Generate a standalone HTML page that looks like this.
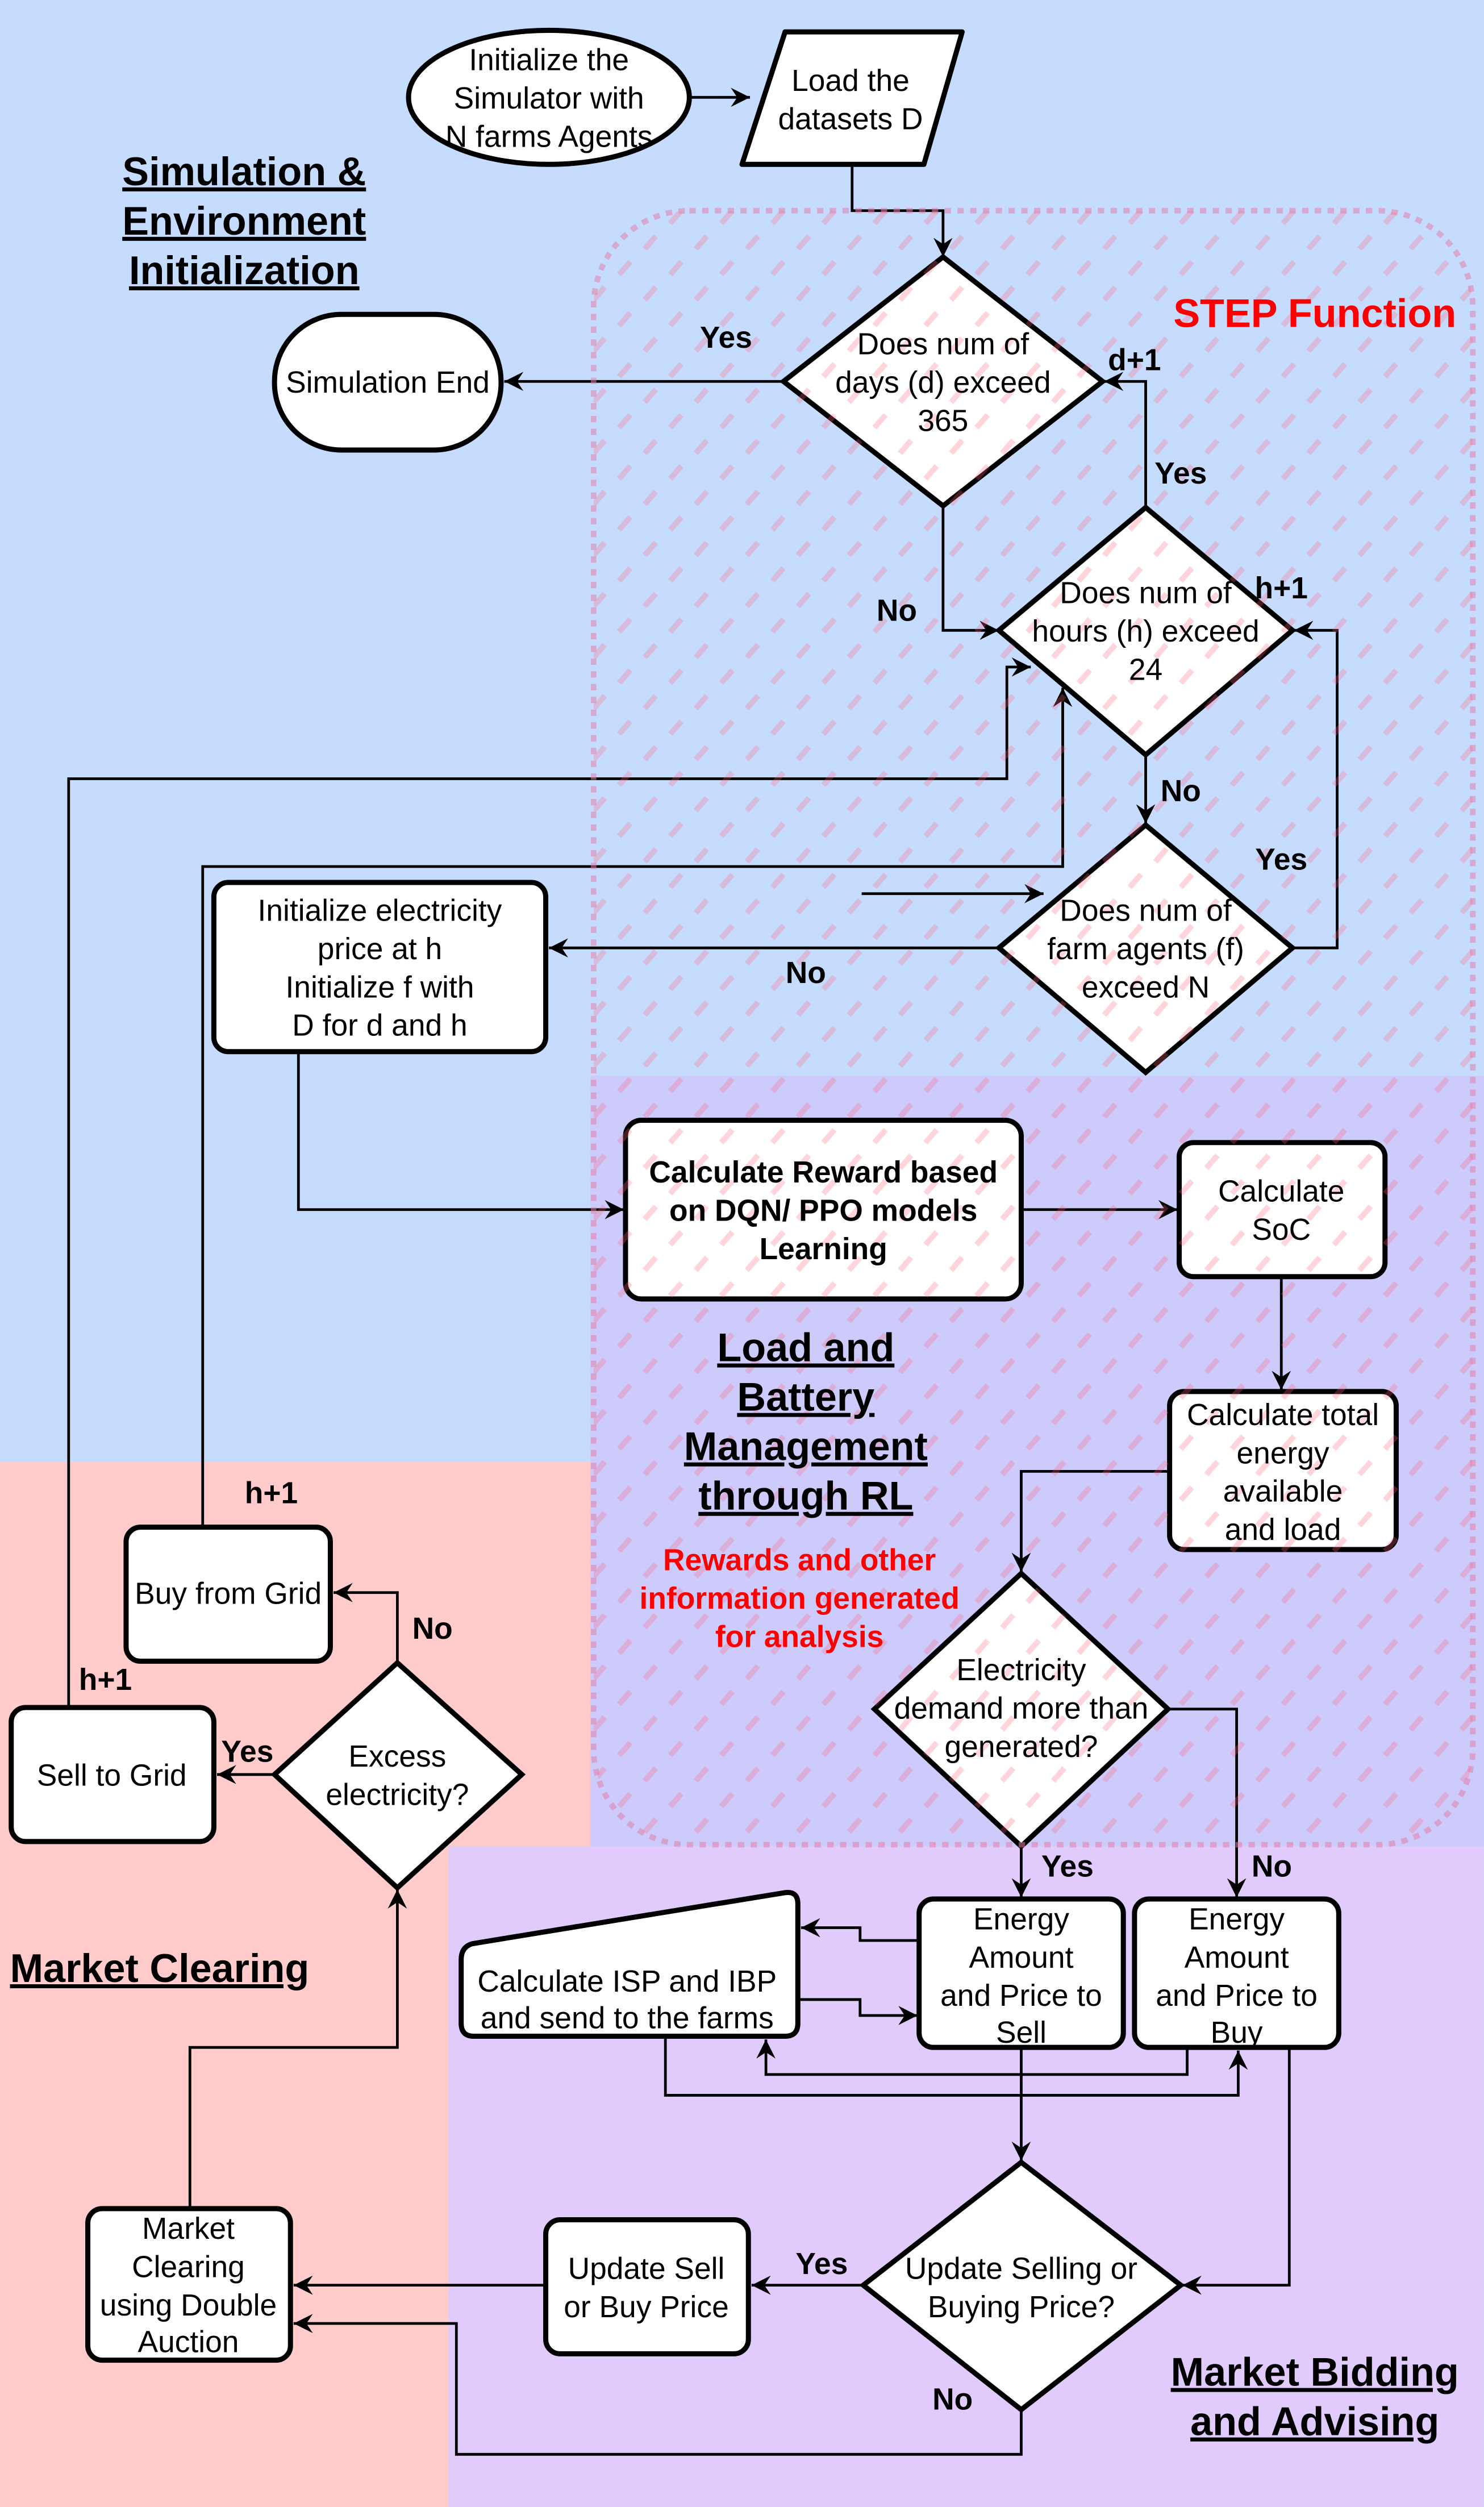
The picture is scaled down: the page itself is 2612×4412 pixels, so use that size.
<!DOCTYPE html>
<html><head><meta charset="utf-8"><style>
html,body{margin:0;padding:0;background:#c6dcfe}
svg{display:block}
text{font-family:"Liberation Sans",Arial,sans-serif}
.n{font-size:19px;fill:#000;text-anchor:middle}
.b{font-size:19px;font-weight:bold;fill:#000;text-anchor:middle}
.t{font-size:25px;font-weight:bold;fill:#000;text-anchor:middle;text-decoration:underline}
.s{fill:#fff;stroke:#000;stroke-width:3.2}
.c{fill:none;stroke:#000;stroke-width:1.7}
</style></head><body>
<svg width="2612" height="4412" viewBox="0 0 930 1571" xmlns="http://www.w3.org/2000/svg">
<defs>
<marker id="a" markerUnits="userSpaceOnUse" markerWidth="14" markerHeight="12" refX="12" refY="6" orient="auto">
<path d="M0,0 L12,6 L0,12 L4,6 z" fill="#000"/></marker>
<pattern id="h" patternUnits="userSpaceOnUse" width="32" height="32">
<path d="M4,12 L11,4 M20,28 L27,20" stroke="rgba(255,100,125,0.28)" stroke-width="3.5"/>
</pattern>
<clipPath id="cr"><rect x="372" y="132" width="551" height="1024" rx="60"/></clipPath>
</defs>
<rect x="0" y="0" width="930" height="1571" fill="#c6dcfe"/>
<rect x="370" y="674" width="560" height="483" fill="#cccbfc"/>
<rect x="0" y="916" width="370" height="655" fill="#ffcbcb"/>
<rect x="281" y="1157" width="649" height="414" fill="#e1cbfd"/>

<path class="c" d="M432,61 L470,61" marker-end="url(#a)"/>
<path class="c" d="M534,103 L534,132 L591,132 L591,161" marker-end="url(#a)"/>
<path class="c" d="M491,239 L316,239" marker-end="url(#a)"/>
<path class="c" d="M591,317 L591,395 L626,395" marker-end="url(#a)"/>
<path class="c" d="M718,318 L718,239 L692,239" marker-end="url(#a)"/>
<path class="c" d="M718,473 L718,516" marker-end="url(#a)"/>
<path class="c" d="M810,594 L838,594 L838,395 L811,395" marker-end="url(#a)"/>
<path class="c" d="M540,560 L654,560" marker-end="url(#a)"/>
<path class="c" d="M626,594 L344,594" marker-end="url(#a)"/>
<path class="c" d="M187,659 L187,758 L391,758" marker-end="url(#a)"/>
<path class="c" d="M640,758 L738,758" marker-end="url(#a)"/>
<path class="c" d="M803,800 L803,871" marker-end="url(#a)"/>
<path class="c" d="M733,922 L640,922 L640,985" marker-end="url(#a)"/>
<path class="c" d="M732,1071 L775,1071 L775,1189" marker-end="url(#a)"/>
<path class="c" d="M640,1157 L640,1189" marker-end="url(#a)"/>
<path class="c" d="M576,1216 L539,1216 L539,1208 L502,1208" marker-end="url(#a)"/>
<path class="c" d="M500,1253 L539,1253 L539,1263 L575,1263" marker-end="url(#a)"/>
<path class="c" d="M744,1284 L744,1300 L480,1300 L480,1278" marker-end="url(#a)"/>
<path class="c" d="M417,1276 L417,1313 L776,1313 L776,1285" marker-end="url(#a)"/>
<path class="c" d="M640,1283 L640,1354" marker-end="url(#a)"/>
<path class="c" d="M808,1283 L808,1432 L741,1432" marker-end="url(#a)"/>
<path class="c" d="M541,1432 L471,1432" marker-end="url(#a)"/>
<path class="c" d="M342,1432 L184,1432" marker-end="url(#a)"/>
<path class="c" d="M640,1510 L640,1538 L286,1538 L286,1456 L184,1456" marker-end="url(#a)"/>
<path class="c" d="M119,1384 L119,1283 L249,1283 L249,1184" marker-end="url(#a)"/>
<path class="c" d="M172,1112 L136,1112" marker-end="url(#a)"/>
<path class="c" d="M249,1042 L249,998 L209,998" marker-end="url(#a)"/>
<path class="c" d="M127,957 L127,543 L666,543 L666,431" marker-end="url(#a)"/>
<path class="c" d="M43,1070 L43,488 L631,488 L631,418 L646,418" marker-end="url(#a)"/>

<ellipse class="s" cx="344" cy="61" rx="88" ry="42"/>
<path class="s" d="M492,20 L603,20 L579,103 L465,103 Z" stroke-linejoin="round"/>
<path class="s" d="M591,161 L691,239 L591,317 L491,239 Z"/>
<rect class="s" x="172" y="197" width="142" height="85" rx="42"/>
<path class="s" d="M718,318 L810,395 L718,473 L626,395 Z"/>
<path class="s" d="M718,517 L810,594 L718,672 L626,594 Z"/>
<rect class="s" x="134" y="553" width="208" height="106" rx="9"/>
<rect class="s" x="392" y="702" width="248" height="112" rx="10"/>
<rect class="s" x="739" y="716" width="129" height="84" rx="9"/>
<rect class="s" x="733" y="872" width="142" height="99" rx="9"/>
<path class="s" d="M640,986 L732,1071 L640,1157 L548,1071 Z"/>
<rect class="s" x="576" y="1190" width="128" height="93" rx="9"/>
<rect class="s" x="711" y="1190" width="128" height="93" rx="9"/>
<path class="s" d="M296,1218 L492,1186 Q500,1185 500,1193 L500,1268 Q500,1276 492,1276 L297,1276 Q289,1276 289,1268 L289,1228 Q289,1220 296,1218 Z"/>
<path class="s" d="M640,1355 L740,1432 L640,1510 L541,1432 Z"/>
<rect class="s" x="342" y="1391" width="127" height="84" rx="9"/>
<rect class="s" x="55" y="1384" width="127" height="95" rx="9"/>
<path class="s" d="M249,1042 L327,1112 L249,1183 L172,1112 Z"/>
<rect class="s" x="79" y="957" width="128" height="84" rx="9"/>
<rect class="s" x="7" y="1070" width="127" height="84" rx="9"/>

<rect x="360" y="120" width="570" height="1050" fill="url(#h)" clip-path="url(#cr)"/>
<rect x="372" y="132" width="551" height="1024" rx="60" fill="none" stroke="rgba(225,130,170,0.55)" stroke-width="3.5" stroke-dasharray="4 4"/>

<text class="n"><tspan x="344" y="44">Initialize the</tspan><tspan x="344" y="68">Simulator with</tspan><tspan x="344" y="92">N farms Agents</tspan></text>
<text class="n"><tspan x="533" y="57">Load the</tspan><tspan x="533" y="81">datasets D</tspan></text>
<text class="n"><tspan x="591" y="222">Does num of</tspan><tspan x="591" y="246">days (d) exceed</tspan><tspan x="591" y="270">365</tspan></text>
<text class="n" x="243" y="246">Simulation End</text>
<text class="n"><tspan x="718" y="378">Does num of</tspan><tspan x="718" y="402">hours (h) exceed</tspan><tspan x="718" y="426">24</tspan></text>
<text class="n"><tspan x="718" y="577">Does num of</tspan><tspan x="718" y="601">farm agents (f)</tspan><tspan x="718" y="625">exceed N</tspan></text>
<text class="n"><tspan x="238" y="577">Initialize electricity</tspan><tspan x="238" y="601">price at h</tspan><tspan x="238" y="625">Initialize f with</tspan><tspan x="238" y="649">D for d and h</tspan></text>
<text class="b"><tspan x="516" y="741">Calculate Reward based</tspan><tspan x="516" y="765">on DQN/ PPO models</tspan><tspan x="516" y="789">Learning</tspan></text>
<text class="n"><tspan x="803" y="753">Calculate</tspan><tspan x="803" y="777">SoC</tspan></text>
<text class="n"><tspan x="804" y="893">Calculate total</tspan><tspan x="804" y="917">energy</tspan><tspan x="804" y="941">available</tspan><tspan x="804" y="965">and load</tspan></text>
<text class="n"><tspan x="640" y="1053">Electricity</tspan><tspan x="640" y="1077">demand more than</tspan><tspan x="640" y="1101">generated?</tspan></text>
<text class="n"><tspan x="640" y="1209">Energy</tspan><tspan x="640" y="1233">Amount</tspan><tspan x="640" y="1257">and Price to</tspan><tspan x="640" y="1280">Sell</tspan></text>
<text class="n"><tspan x="775" y="1209">Energy</tspan><tspan x="775" y="1233">Amount</tspan><tspan x="775" y="1257">and Price to</tspan><tspan x="775" y="1280">Buy</tspan></text>
<text class="n"><tspan x="393" y="1248">Calculate ISP and IBP</tspan><tspan x="393" y="1271">and send to the farms</tspan></text>
<text class="n"><tspan x="640" y="1428">Update Selling or</tspan><tspan x="640" y="1452">Buying Price?</tspan></text>
<text class="n"><tspan x="405" y="1428">Update Sell</tspan><tspan x="405" y="1452">or Buy Price</tspan></text>
<text class="n"><tspan x="118" y="1403">Market</tspan><tspan x="118" y="1427">Clearing</tspan><tspan x="118" y="1451">using Double</tspan><tspan x="118" y="1474">Auction</tspan></text>
<text class="n"><tspan x="249" y="1107">Excess</tspan><tspan x="249" y="1131">electricity?</tspan></text>
<text class="n" x="143" y="1005">Buy from Grid</text>
<text class="n" x="70" y="1119">Sell to Grid</text>

<text class="b" x="455" y="218">Yes</text>
<text class="b" x="711" y="232">d+1</text>
<text class="b" x="740" y="303">Yes</text>
<text class="b" x="562" y="389">No</text>
<text class="b" x="803" y="375">h+1</text>
<text class="b" x="740" y="502">No</text>
<text class="b" x="803" y="545">Yes</text>
<text class="b" x="505" y="616">No</text>
<text class="b" x="669" y="1176">Yes</text>
<text class="b" x="797" y="1176">No</text>
<text class="b" x="515" y="1425">Yes</text>
<text class="b" x="597" y="1510">No</text>
<text class="b" x="170" y="942">h+1</text>
<text class="b" x="271" y="1027">No</text>
<text class="b" x="66" y="1059">h+1</text>
<text class="b" x="155" y="1104">Yes</text>

<text class="t"><tspan x="153" y="116">Simulation &amp;</tspan><tspan x="153" y="147">Environment</tspan><tspan x="153" y="178">Initialization</tspan></text>
<text x="824" y="205" style="font-size:25px;font-weight:bold;fill:#ff0000;text-anchor:middle">STEP Function</text>
<text class="t"><tspan x="505" y="853">Load and</tspan><tspan x="505" y="884">Battery</tspan><tspan x="505" y="915">Management</tspan><tspan x="505" y="946">through RL</tspan></text>
<text style="font-size:19px;font-weight:bold;fill:#ff0000;text-anchor:middle"><tspan x="501" y="984">Rewards and other</tspan><tspan x="501" y="1008">information generated</tspan><tspan x="501" y="1032">for analysis</tspan></text>
<text class="t" x="100" y="1242">Market Clearing</text>
<text class="t"><tspan x="824" y="1495">Market Bidding</tspan><tspan x="824" y="1526">and Advising</tspan></text>
</svg>
</body></html>
